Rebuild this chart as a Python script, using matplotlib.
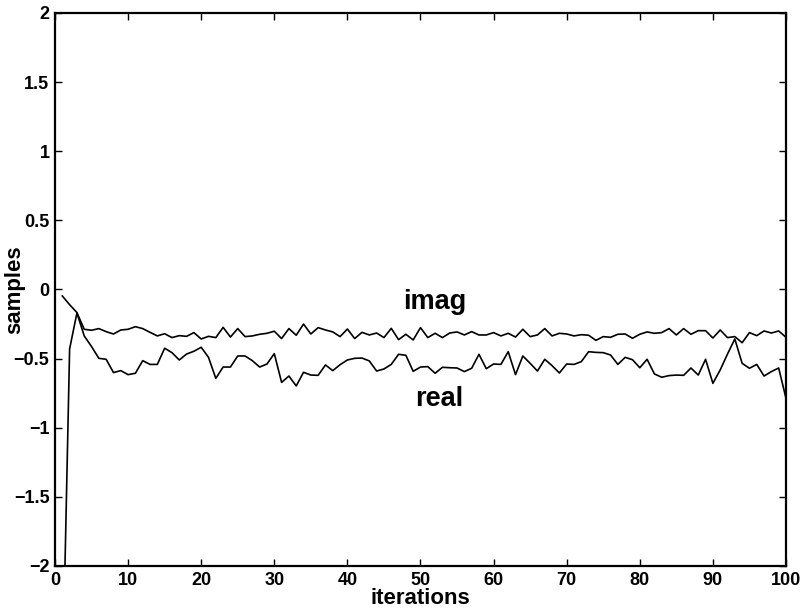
import numpy as np
import matplotlib
matplotlib.use("Agg")
import matplotlib.pyplot as plt

# data (iterations 1..100)
iterations = np.arange(1, 101)

real_vals = [-2.9, -0.43, -0.17, -0.336, -0.413, -0.498, -0.505, -0.601, -0.587, -0.616,
             -0.606, -0.515, -0.542, -0.542, -0.425, -0.457, -0.510, -0.467, -0.447, -0.418,
             -0.491, -0.643, -0.561, -0.561, -0.481, -0.481, -0.515, -0.561, -0.539, -0.464,
             -0.672, -0.626, -0.698, -0.599, -0.619, -0.621, -0.546, -0.587, -0.544, -0.510,
             -0.498, -0.496, -0.517, -0.590, -0.575, -0.542, -0.469, -0.476, -0.592, -0.561,
             -0.558, -0.606, -0.563, -0.566, -0.568, -0.594, -0.570, -0.469, -0.573, -0.539,
             -0.542, -0.450, -0.616, -0.481, -0.534, -0.590, -0.505, -0.551, -0.604, -0.539,
             -0.542, -0.522, -0.450, -0.455, -0.457, -0.474, -0.542, -0.491, -0.508, -0.566,
             -0.505, -0.611, -0.635, -0.623, -0.619, -0.621, -0.568, -0.619, -0.505, -0.679,
             -0.582, -0.467, -0.358, -0.534, -0.570, -0.542, -0.626, -0.594, -0.568, -0.787]

imag_vals = [-0.047, -0.11, -0.167, -0.288, -0.295, -0.283, -0.305, -0.322, -0.293, -0.288,
             -0.269, -0.283, -0.310, -0.336, -0.320, -0.348, -0.334, -0.339, -0.312, -0.358,
             -0.339, -0.348, -0.274, -0.344, -0.283, -0.341, -0.336, -0.324, -0.317, -0.302,
             -0.355, -0.283, -0.331, -0.250, -0.322, -0.276, -0.293, -0.307, -0.341, -0.286,
             -0.355, -0.310, -0.329, -0.315, -0.348, -0.281, -0.363, -0.324, -0.365, -0.276,
             -0.348, -0.317, -0.348, -0.315, -0.307, -0.329, -0.305, -0.329, -0.329, -0.312,
             -0.336, -0.317, -0.344, -0.288, -0.341, -0.329, -0.283, -0.336, -0.317, -0.322,
             -0.336, -0.327, -0.331, -0.368, -0.341, -0.346, -0.324, -0.322, -0.353, -0.324,
             -0.307, -0.317, -0.312, -0.283, -0.329, -0.283, -0.324, -0.298, -0.298, -0.351,
             -0.293, -0.348, -0.341, -0.385, -0.312, -0.334, -0.300, -0.315, -0.300, -0.346]

xticks = [0, 10, 20, 30, 40, 50, 60, 70, 80, 90, 100]
yticks = [-2, -1.5, -1, -0.5, 0, 0.5, 1, 1.5, 2]
ytick_labels = ["\u22122", "\u22121.5", "\u22121", "\u22120.5", "0", "0.5", "1", "1.5", "2"]

plt.rcParams['font.family'] = ['Liberation Sans', 'DejaVu Sans']
plt.rcParams['font.weight'] = 'bold'

fig = plt.figure(figsize=(8.04, 6.12), dpi=100)
ax = fig.add_axes([0.0684, 0.0752, 0.9092, 0.9036])

ax.plot(iterations, real_vals, color='black', lw=1.2)
ax.plot(iterations, imag_vals, color='black', lw=1.2)

# curve labels
ax.text(52.0, -0.09, "imag", fontsize=19.5, fontweight='bold', ha='center', va='center')
ax.text(52.5, -0.79, "real", fontsize=19.5, fontweight='bold', ha='center', va='center')

ax.set_xlim(0, 100)
ax.set_ylim(-2, 2)
ax.set_xticks(xticks)
ax.set_yticks(yticks)
ax.set_yticklabels(ytick_labels)
ax.tick_params(direction='in', length=5, width=1, top=True, right=True,
               labelsize=13, pad=4)
for lab in ax.get_xticklabels() + ax.get_yticklabels():
    lab.set_fontweight('bold')
for sp in ax.spines.values():
    sp.set_linewidth(1.6)

ax.set_xlabel("iterations", fontsize=16, fontweight='bold')
ax.xaxis.set_label_coords(0.5, -0.039)
ax.set_ylabel("samples", fontsize=16, fontweight='bold')
ax.yaxis.set_label_coords(-0.041, 0.5)

fig.savefig("out.png", dpi=100)
